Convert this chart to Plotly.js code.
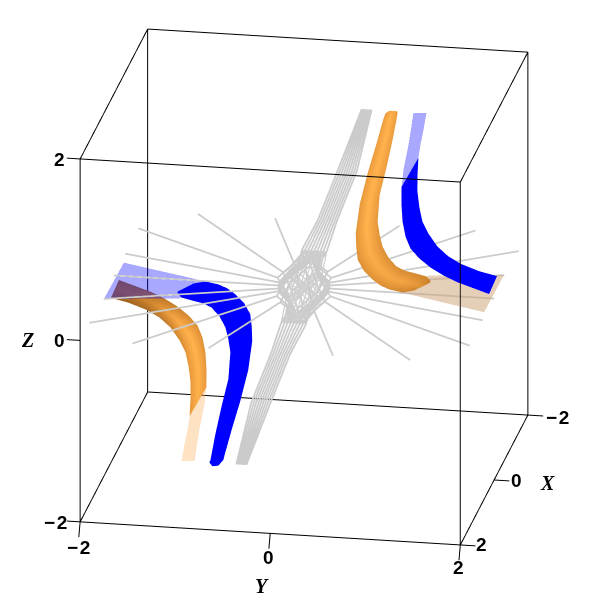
<!DOCTYPE html>
<html><head><meta charset="utf-8">
<script src="https://cdn.plot.ly/plotly-3.0.1.min.js"></script>
<style>html,body{margin:0;padding:0;background:#fff}#g{width:604px;height:608px}</style>
</head><body><div id="g"></div>
<script>
var tickVals=[-2,0,2];
var tickText=['\u2212\u200a2','0','2'];
var edgeLo=-2, edgeHi=2;
// upper orange tube [edge, middle, edge]
var fx=[[0,0,0],[0,0,0],[0,.04,0],[.02,.15,0],[.05,.165,0],[.08,.18,0],[.12,.21,.02],[.16,.24,.035],[.2,.265,.05],[.25,.3,.075],[.3,.34,.1],[.34,.37,.125],[.38,.405,.15],[.4,.44,.2],[.35,.385,.22],[.28,.285,.25]];
var fy=[[.9,.937,.974],[.859,.92,.984],[.838,.916,.984],[.768,.875,.932],[.679,.799,.869],[.601,.723,.796],[.566,.697,.778],[.578,.715,.802],[.601,.743,.836],[.673,.813,.903],[.776,.909,.992],[.867,1,1.08],[.968,1.093,1.168],[1.108,1.241,1.324],[1.225,1.317,1.369],[1.317,1.345,1.374]];
var fz=[[1.999,2,2],[1.971,1.98,1.996],[1.915,1.955,1.969],[1.642,1.71,1.679],[1.317,1.398,1.378],[.982,1.074,1.066],[.675,.775,.775],[.536,.638,.64],[.41,.512,.515],[.311,.409,.407],[.237,.33,.324],[.192,.293,.294],[.169,.278,.287],[.153,.262,.272],[.165,.23,.238],[.201,.215,.228]];
var fShade=[[.75,.9,.75],[.75,.95,.75],[.75,1,.75],[.75,1,.75],[.75,1,.75],[.72,1,.75],[.7,1,.7],[.68,.98,.68],[.65,.95,.65],[.65,.92,.63],[.65,.9,.62],[.63,.87,.6],[.62,.85,.6],[.55,.75,.55],[.5,.65,.5],[.5,.5,.5]];
// lower blue ribbon
var cx=[[.07,.1],[0,0],[0,0],[-.02,0],[-.05,0],[-.08,0],[-.12,-.02],[-.16,-.035],[-.2,-.05],[-.25,-.075],[-.3,-.1],[-.34,-.125],[-.38,-.15],[-.4,-.2],[-.35,-.22],[-.28,-.25]];
var cy=[[-.888,-.946],[-.848,-.995],[-.838,-.984],[-.768,-.932],[-.679,-.869],[-.601,-.796],[-.566,-.778],[-.578,-.802],[-.601,-.836],[-.673,-.903],[-.776,-.992],[-.867,-1.08],[-.968,-1.168],[-1.108,-1.324],[-1.225,-1.369],[-1.317,-1.374]];
var cz=[[-2,-2],[-1.959,-1.998],[-1.915,-1.969],[-1.642,-1.679],[-1.317,-1.378],[-.982,-1.066],[-.675,-.775],[-.536,-.64],[-.41,-.515],[-.311,-.407],[-.237,-.324],[-.192,-.294],[-.169,-.287],[-.153,-.272],[-.165,-.238],[-.201,-.228]];
// upper blue ribbon
var hx=[[.03,-.01],[.04,-.01],[.05,-.02],[.06,-.03],[.08,-.04],[.1,-.06],[.13,-.08],[.16,-.1],[.2,-.12],[.25,-.15],[.29,-.18]];
var hy=[[1.032,1.202],[1.033,1.192],[1.046,1.19],[1.079,1.209],[1.135,1.239],[1.232,1.298],[1.353,1.389],[1.494,1.501],[1.648,1.633],[1.825,1.816],[1.999,1.999]];
var hz=[[1.18,1.497],[.986,1.298],[.804,1.118],[.645,.941],[.524,.785],[.428,.65],[.348,.507],[.281,.397],[.229,.314],[.193,.236],[.153,.183]];
// lower orange tube
var ax=[[-.03,.13,.01],[-.04,.125,.01],[-.05,.125,.02],[-.06,.125,.03],[-.08,.12,.04],[-.1,.12,.06],[-.13,.115,.08],[-.16,.11,.1],[-.2,.1,.12],[-.25,.09,.15],[-.29,.085,.18]];
var ay=[[-1.032,-1.092,-1.202],[-1.033,-1.088,-1.192],[-1.046,-1.093,-1.19],[-1.079,-1.119,-1.209],[-1.135,-1.162,-1.239],[-1.232,-1.24,-1.298],[-1.353,-1.346,-1.389],[-1.494,-1.473,-1.501],[-1.648,-1.615,-1.633],[-1.825,-1.795,-1.816],[-1.999,-1.975,-1.999]];
var az=[[-1.18,-1.289,-1.497],[-.986,-1.092,-1.298],[-.804,-.911,-1.118],[-.645,-.743,-.941],[-.524,-.605,-.785],[-.428,-.489,-.65],[-.348,-.378,-.507],[-.281,-.289,-.397],[-.229,-.222,-.314],[-.193,-.165,-.236],[-.153,-.118,-.183]];
var aShade=[[.72,.95,.72],[.7,1,.72],[.68,1,.72],[.65,1,.7],[.62,1,.68],[.58,.95,.6],[.5,.85,.5],[.45,.7,.42],[.4,.55,.35],[.35,.45,.28],[.35,.4,.28]];
// translucent tails
var ix=[[.02,0],[.02,0],[.03,0],[.03,-.01]];
var iy=[[1.155,1.288],[1.103,1.257],[1.052,1.225],[1.032,1.202]];
var iz=[[1.998,1.999],[1.643,1.811],[1.369,1.645],[1.18,1.497]];
var bx=[[-.02,0],[-.02,0],[-.03,0],[-.03,.01]];
var by=[[-1.155,-1.288],[-1.103,-1.257],[-1.052,-1.225],[-1.032,-1.202]];
var bz=[[-1.998,-1.999],[-1.643,-1.811],[-1.369,-1.645],[-1.18,-1.497]];
// translucent flat sheets
var gx=[[-.59,.59],[-.435,.1]], gy=[[2,2],[1.24,1]], gz=[[.05,.06],[.05,.05]];
var dx=[[.59,-.59],[.435,-.1]], dy=[[-2,-2],[-1.24,-1]], dz=[[-.047,-.07],[-.05,-.05]];
// grey streamlines: fan ends, arrival points, bends
var endX=[-2,-2,-1.46,-.72,0,.67,1.45,1.99,2];
var endY=[.65,1.45,2,1.98,2,2,2,1.47,.66];
var arrX=[-.5,-.32,-.175,-.094,0,.094,.23,.4,.56];
var arrY=[.16,.23,.24,.257,.272,.28,.32,.29,.185];
var bendX=[-.3,-.19,-.1,-.056,0,.056,.14,.24,.34];
var bendY=[.1,.14,.145,.155,.165,.17,.19,.175,.11];
var bendZ=.14;
var bandZ=[2,1.31,.75,.41];
var bandY=[[.607,.62,.633,.646,.66,.673,.686,.7,.712],
           [.356,.381,.406,.431,.455,.48,.505,.53,.555],
           [.147,.172,.197,.222,.247,.272,.297,.322,.346],
           [-.02,.012,.045,.077,.11,.142,.175,.207,.24]];
var coreY=[-.16,-.12,-.08,-.04,0,.04,.08,.12,.16];

var lx=[],ly=[],lz=[], hxs=[],hys=[],hzs=[];
function pt(a,b,c,X,Y,Z){X.push(a);Y.push(b);Z.push(c);}
function streamline(k,band,fan){
  var e=8-k;
  bandZ.forEach(function(z,l){pt(0,band*bandY[l][k],band*z,lx,ly,lz);});
  pt(fan*bendX[e],fan*bendY[e],band*bendZ,lx,ly,lz);
  pt(fan*arrX[e],fan*arrY[e],0,lx,ly,lz);
  pt(fan*endX[e],fan*endY[e],0,lx,ly,lz);
  pt(null,null,null,lx,ly,lz);
}
for(var k=0;k<9;k++){
  [1,-1].forEach(function(b){[1,-1].forEach(function(f){streamline(k,b,f);});});
  // lines through the middle of the stagnation region
  pt(0,bandY[3][k],bandZ[3],hxs,hys,hzs);
  pt(0,coreY[k],0,hxs,hys,hzs);
  pt(0,-bandY[3][8-k],-bandZ[3],hxs,hys,hzs);
  pt(null,null,null,hxs,hys,hzs);
  [1,-1].forEach(function(f){
    pt(f*bendX[k],f*bendY[k],bendZ,hxs,hys,hzs);
    pt(-f*bendX[8-k],-f*bendY[8-k],-bendZ,hxs,hys,hzs);
    pt(null,null,null,hxs,hys,hzs);
  });
}
// frame of the box and its tick marks
var fxs=[],fys=[],fzs=[];
function seg(a,b){pt(a[0],a[1],a[2],fxs,fys,fzs);pt(b[0],b[1],b[2],fxs,fys,fzs);pt(null,null,null,fxs,fys,fzs);}
[edgeLo,edgeHi].forEach(function(p){[edgeLo,edgeHi].forEach(function(q){
  seg([edgeLo,p,q],[edgeHi,p,q]);seg([p,edgeLo,q],[p,edgeHi,q]);seg([p,q,edgeLo],[p,q,edgeHi]);
});});
tickVals.forEach(function(v){
  seg([edgeHi,edgeLo,v],[edgeHi,edgeLo-.14,v]);            // Z ticks
  seg([edgeHi,v,edgeLo],[edgeHi+.08,v,edgeLo-.14]);        // Y ticks
  seg([v,edgeHi,edgeLo],[v,edgeHi+.16,edgeLo]);            // X ticks
});

var flat={ambient:1,diffuse:0,specular:0,roughness:1,fresnel:0};
var orangeScale=[[0,'#6e4214'],[.5,'#c8802c'],[.8,'#f0a040'],[1,'#ffb44e']];
function solid(c){return [[0,c],[1,c]];}
function surf(x,y,z,scale,op,shade){
  var t={type:'surface',x:x,y:y,z:z,colorscale:scale,showscale:false,opacity:op,lighting:flat,hoverinfo:'skip',
    contours:{x:{show:false},y:{show:false},z:{show:false}}};
  if(shade){t.surfacecolor=shade;t.cmin=0;t.cmax=1;}
  return t;
}
function lines(x,y,z,c,w){return {type:'scatter3d',mode:'lines',x:x,y:y,z:z,line:{color:c,width:w},connectgaps:false,hoverinfo:'skip',showlegend:false};}
var data=[
 lines(lx,ly,lz,'#cbcbcb',3.5),
 lines(hxs,hys,hzs,'#cfcfcf',2.5),
 lines(fxs,fys,fzs,'#000',2),
 surf(fx,fy,fz,orangeScale,1,fShade),
 surf(ax,ay,az,orangeScale,1,aShade),
 surf(cx,cy,cz,solid('#0000ff'),1),
 surf(hx,hy,hz,solid('#0000ff'),1),
 surf(ix,iy,iz,solid('#0000ff'),.34),
 surf(dx,dy,dz,solid('#0000ff'),.34),
 surf(bx,by,bz,solid('#f9ac54'),.35),
 surf(gx,gy,gz,solid('#cda173'),.5)
];
var tickFont={family:'Liberation Sans',size:19,weight:'bold',color:'#000'};
var titleFont={family:'Liberation Serif',size:20,style:'italic',weight:'bold',color:'#000'};
function note(x,y,z,text,dx_,dy_,font){
  return {x:x,y:y,z:z,text:text,showarrow:false,xanchor:'center',yanchor:'middle',xshift:dx_,yshift:-dy_,font:font};
}
var zShift=[[-25,1],[-21,0],[-21,1]], yShift=[[-2,26],[-2,24],[-2,23]], xShift=[[30,2],[22,1],[21,0]];
var notes=[];
tickVals.forEach(function(v,i){
  notes.push(note(edgeHi,edgeLo,v,tickText[i],zShift[i][0],zShift[i][1],tickFont));
  notes.push(note(edgeHi,v,edgeLo,tickText[i],yShift[i][0],yShift[i][1],tickFont));
  notes.push(note(v,edgeHi,edgeLo,tickText[i],xShift[i][0],xShift[i][1],tickFont));
});
notes.push(note(edgeHi,edgeLo,0,'Z',-53,0,titleFont));
notes.push(note(edgeHi,0,edgeLo,'Y',-8,53,titleFont));
notes.push(note(0,edgeHi,edgeLo,'X',53,3,titleFont));
var hidden={visible:false,range:[-2.2,2.2],autorange:false,showgrid:false,zeroline:false,showbackground:false,showspikes:false};
var layout={width:604,height:608,margin:{l:0,r:0,t:0,b:0},paper_bgcolor:'#fff',showlegend:false,
 scene:{domain:{x:[4/604,1],y:[34/608,1]},aspectmode:'manual',aspectratio:{x:1.48,y:1.48,z:1.48},annotations:notes,
  xaxis:hidden,yaxis:hidden,zaxis:hidden,
  camera:{projection:{type:'orthographic'},up:{x:0,y:0,z:1},center:{x:0,y:0,z:0},eye:{x:1.235,y:.2195,z:.456}}}};
Plotly.newPlot('g',data,layout,{displayModeBar:false});
</script></body></html>
